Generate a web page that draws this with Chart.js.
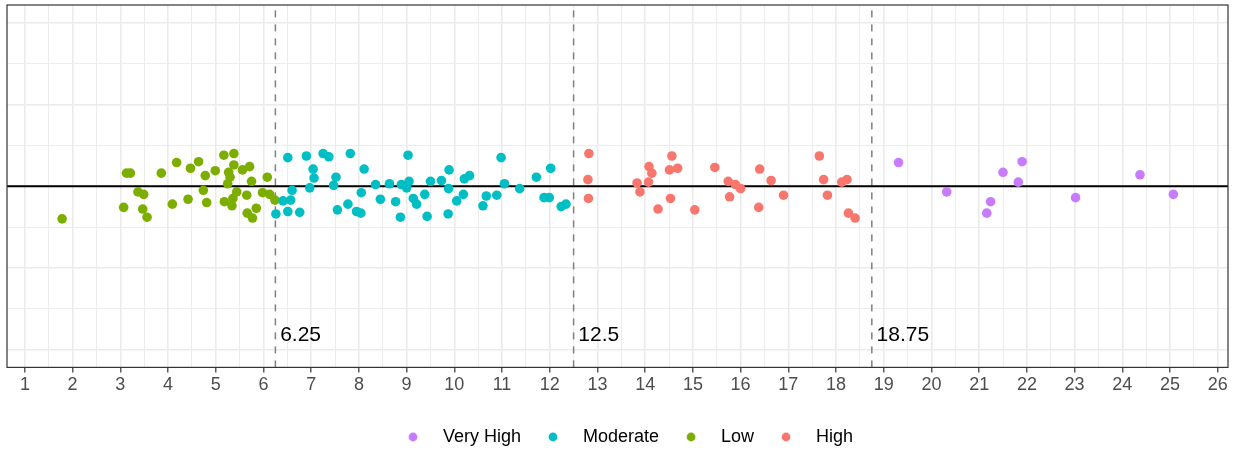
<!DOCTYPE html>
<html>
<head>
<meta charset="utf-8">
<script src="https://cdn.jsdelivr.net/npm/chart.js@4.4.1/dist/chart.umd.min.js"></script>
<style>
  html, body { margin: 0; padding: 0; background: #fff; }
</style>
</head>
<body>
<canvas id="jitterChart" width="1236" height="452"></canvas>
<script>
// ====== Data ======
const categories = ['Very High', 'Moderate', 'Low', 'High'];
const cutoffs = [6.25, 12.5, 18.75];

const veryHighX = [19.31, 20.32, 21.24, 21.16, 21.50, 21.82, 21.90, 23.02, 24.37, 25.07];
const veryHighY = [0.29, -0.07, -0.19, -0.33, 0.17, 0.05, 0.30, -0.14, 0.14, -0.10];

const moderateX = [6.26, 6.51, 6.60, 6.41, 6.57, 6.51, 6.76, 6.90, 7.04, 7.06, 6.97, 7.25, 7.37, 7.52,
  7.47, 7.55, 7.77, 7.82, 7.95, 8.04, 8.11, 8.05, 8.35, 8.45, 8.64, 8.77, 8.87, 8.89, 9.03, 9.05, 9.00,
  9.14, 9.21, 9.38, 9.43, 9.50, 9.73, 9.89, 9.88, 9.87, 10.05, 10.19, 10.21, 10.32, 10.60, 10.67, 10.89,
  10.98, 11.05, 11.37, 11.72, 12.02, 11.88, 11.99, 12.24, 12.34];
const moderateY = [-0.34, 0.35, -0.05, -0.18, -0.17, -0.31, -0.32, 0.37, 0.21, 0.10, -0.02, 0.40, 0.36, 0.11,
  0.01, -0.29, -0.22, 0.40, -0.31, -0.33, 0.21, -0.08, 0.02, -0.16, 0.03, -0.19, -0.38, 0.02, 0.38, 0.06, -0.02,
  -0.15, -0.22, -0.10, -0.37, 0.06, 0.07, 0.20, -0.03, -0.34, -0.18, -0.10, 0.09, 0.13, -0.24, -0.12, -0.11,
  0.35, 0.03, -0.03, 0.11, 0.22, -0.14, -0.14, -0.25, -0.22];

const lowX = [1.78, 3.07, 3.13, 3.21, 3.37, 3.49, 3.47, 3.56, 3.86, 4.09, 4.18, 4.42, 4.47, 4.64, 4.74, 4.78,
  4.81, 4.99, 5.17, 5.38, 5.38, 5.27, 5.30, 5.25, 5.56, 5.71, 5.18, 5.34, 5.36, 5.44, 5.65, 5.75, 5.85, 5.66,
  5.77, 6.08, 5.98, 6.13, 6.24];
const lowY = [-0.40, -0.26, 0.16, 0.16, -0.07, -0.10, -0.28, -0.38, 0.16, -0.22, 0.29, -0.16, 0.22, 0.30, -0.05, 0.13,
  -0.20, 0.19, 0.38, 0.40, 0.26, 0.17, 0.11, 0.03, 0.20, 0.24, -0.19, -0.24, -0.15, -0.07, -0.11, 0.06, -0.27, -0.33,
  -0.39, 0.11, -0.08, -0.10, -0.17];

const highX = [12.82, 12.80, 12.81, 13.83, 13.89, 14.08, 14.14, 14.07, 14.27, 14.56, 14.51, 14.68, 14.53, 15.04,
  15.46, 15.74, 15.89, 16.00, 15.77, 16.40, 16.38, 16.64, 16.90, 17.65, 17.74, 17.82, 18.12, 18.23, 18.26, 18.40];
const highY = [0.40, 0.08, -0.15, 0.04, -0.07, 0.24, 0.16, 0.05, -0.28, 0.37, 0.20, 0.22, -0.15, -0.29,
  0.23, 0.06, 0.02, -0.03, -0.13, 0.21, -0.26, 0.07, -0.11, 0.37, 0.08, -0.11, 0.05, 0.08, -0.33, -0.39];

// ====== Styles ======
const colors = ['#C77CFF', '#00BFC4', '#7CAE00', '#F8766D'];
const xRange = [0.625, 26.215];
const yRange = [-2.22, 2.22];
const labelY = -1.83;

Chart.defaults.font.family = "'Liberation Sans', Arial, sans-serif";

const toPoints = (xs, ys) => xs.map((x, i) => ({ x: x, y: ys[i] }));
const seriesX = [veryHighX, moderateX, lowX, highX];
const seriesY = [veryHighY, moderateY, lowY, highY];

const pointSets = categories.map((name, i) => ({
  type: 'scatter',
  label: name,
  data: toPoints(seriesX[i], seriesY[i]),
  backgroundColor: colors[i],
  borderWidth: 0,
  pointRadius: 4.8,
  pointHoverRadius: 4.8
}));

const zeroLine = {
  type: 'line',
  label: 'zero',
  data: [{ x: xRange[0], y: 0 }, { x: xRange[1], y: 0 }],
  borderColor: '#000000',
  borderWidth: 1.9,
  pointRadius: 0
};

const cutoffLines = cutoffs.map(c => ({
  type: 'line',
  label: 'cut ' + c,
  data: [{ x: c, y: yRange[0] }, { x: c, y: yRange[1] }],
  borderColor: '#7f7f7f',
  borderWidth: 1.5,
  borderDash: [7, 7],
  pointRadius: 0
}));

function legendDot(color) {
  const c = document.createElement('canvas');
  c.width = 41;
  c.height = 12;
  const g = c.getContext('2d');
  g.fillStyle = color;
  g.beginPath();
  g.arc(20, 6, 4.4, 0, Math.PI * 2);
  g.fill();
  return c;
}

const isMajor = v => Math.abs(v - Math.round(v)) < 1e-9;
const gridColor = ctx => '#ebebeb';
const gridWidth = ctx => (ctx.tick && isMajor(ctx.tick.value) ? 1.6 : 0.9);

// ====== Plugins ======
const panelExtras = {
  id: 'panelExtras',
  afterLayout(chart) {
    // nudge legend to sit like the ggplot guide
    chart.legend.left += 11;
    chart.legend.top += 18;
    chart.legend.bottom += 18;
  },
  afterDatasetsDraw(chart) {
    const { ctx, chartArea, scales } = chart;
    ctx.save();
    ctx.font = "21px 'Liberation Sans', Arial, sans-serif";
    ctx.fillStyle = '#000000';
    ctx.textAlign = 'left';
    ctx.textBaseline = 'middle';
    cutoffs.forEach(c => {
      ctx.fillText(String(c), scales.x.getPixelForValue(c + 0.1), scales.y.getPixelForValue(labelY));
    });
    ctx.strokeStyle = '#333333';
    ctx.lineWidth = 1.2;
    ctx.strokeRect(chartArea.left, chartArea.top, chartArea.right - chartArea.left, chartArea.bottom - chartArea.top);
    ctx.restore();
  }
};

const ctx = document.getElementById('jitterChart').getContext('2d');
const jitterChart = new Chart(ctx, {
  type: 'scatter',
  data: { datasets: [...pointSets, zeroLine, ...cutoffLines] },
  options: {
    responsive: false,
    animation: false,
    layout: { padding: { left: 7, right: 8, top: 5, bottom: 14 } },
    plugins: {
      tooltip: { enabled: false },
      legend: {
        position: 'bottom',
        labels: {
          usePointStyle: true,
          pointStyleWidth: 41,
          padding: 12,
          color: '#1a1a1a',
          font: { size: 18 },
          generateLabels: () => categories.map((name, i) => ({
            text: name,
            fillStyle: colors[i],
            strokeStyle: colors[i],
            lineWidth: 0,
            pointStyle: legendDot(colors[i]),
            hidden: false,
            datasetIndex: i
          }))
        }
      }
    },
    scales: {
      x: {
        type: 'linear',
        min: xRange[0],
        max: xRange[1],
        border: { display: false },
        grid: {
          color: gridColor,
          lineWidth: gridWidth,
          tickLength: 5,
          tickColor: c => (c.tick && isMajor(c.tick.value) ? '#333333' : 'rgba(0,0,0,0)'),
          tickWidth: 1.2
        },
        ticks: {
          stepSize: 0.5,
          includeBounds: false,
          autoSkip: false,
          maxRotation: 0,
          padding: 2,
          color: '#4d4d4d',
          font: { size: 18 },
          callback: v => (isMajor(v) ? String(Math.round(v)) : '')
        }
      },
      y: {
        type: 'linear',
        min: yRange[0],
        max: yRange[1],
        border: { display: false },
        grid: { color: gridColor, lineWidth: gridWidth, drawTicks: false },
        ticks: { stepSize: 0.5, includeBounds: false, display: false }
      }
    }
  },
  plugins: [panelExtras]
});
</script>
</body>
</html>
